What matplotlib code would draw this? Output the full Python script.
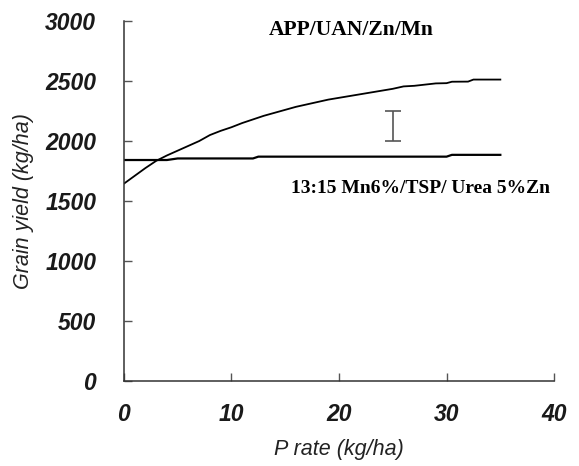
"""
Grain yield response to P rate for two fertilizer programs
"""
import matplotlib
matplotlib.use("Agg")
import matplotlib.pyplot as plt

# APP/UAN/Zn/Mn program
p_app = [0, 1, 2, 3, 4, 5, 6, 7, 8, 9, 10, 11, 12, 13, 14, 15, 16, 17,
         18, 19, 20, 21, 22, 23, 24, 25, 26, 27, 28, 29, 30, 30.5, 32,
         32.5, 34, 35]
yield_app = [1645, 1710, 1775, 1835, 1880, 1920, 1960, 2000, 2050, 2085,
             2115, 2150, 2180, 2210, 2235, 2260, 2285, 2305, 2325, 2345,
             2360, 2375, 2390, 2405, 2420, 2435, 2455, 2460, 2470, 2480,
             2482, 2494, 2495, 2512, 2512, 2512]

# 13:15 Mn6%/TSP/ Urea 5%Zn program
p_tsp = [0, 4, 5, 12, 12.5, 30, 30.5, 35]
yield_tsp = [1842, 1842, 1855, 1855, 1870, 1870, 1885, 1885]

# LSD bar
lsd_x = 25
lsd_low = 2000
lsd_high = 2253

xticks = [0, 10, 20, 30, 40]
yticks = [0, 500, 1000, 1500, 2000, 2500, 3000]

fig = plt.figure(figsize=(5.79, 4.66), dpi=100)
ax = fig.add_axes([0.214, 0.182, 0.743, 0.773])

ax.plot(p_app, yield_app, color="black", lw=1.3)
ax.plot(p_tsp, yield_tsp, color="black", lw=1.6)
ax.errorbar([lsd_x], [(lsd_low + lsd_high) / 2], yerr=[(lsd_high - lsd_low) / 2],
            color="#555555", lw=1.2, capsize=6, capthick=1.2)

ax.text(21.1, 2925, "APP/UAN/Zn/Mn", family="Liberation Serif",
        fontweight="bold", fontsize=15.5, ha="center", va="center")
ax.text(27.6, 1608, "13:15 Mn6%/TSP/ Urea 5%Zn", family="Liberation Serif",
        fontweight="bold", fontsize=14, ha="center", va="center")

ax.set_xlim(0, 40)
ax.set_ylim(0, 3000)
ax.set_xticks(xticks)
ax.set_yticks(yticks)
for s in ["top", "right"]:
    ax.spines[s].set_visible(False)
for s in ["left", "bottom"]:
    ax.spines[s].set_color("#333333")
    ax.spines[s].set_linewidth(1.1)
ax.tick_params(direction="in", length=6, color="#555555", width=1)
ax.tick_params(axis="x", pad=16)
ax.tick_params(axis="y", pad=20)

for lab in ax.get_xticklabels() + ax.get_yticklabels():
    lab.set_family("Liberation Sans")
    lab.set_fontweight("bold")
    lab.set_fontstyle("italic")
    lab.set_fontsize(16.5)
    lab.set_color("#1a1a1a")

ax.set_xlabel("P rate (kg/ha)", family="Liberation Sans", style="italic",
              fontsize=15.5, color="#222222", labelpad=9)
ax.set_ylabel("Grain yield (kg/ha)", family="Liberation Sans", style="italic",
              fontsize=15.5, color="#222222", labelpad=8)

plt.savefig("out.png", dpi=100)
